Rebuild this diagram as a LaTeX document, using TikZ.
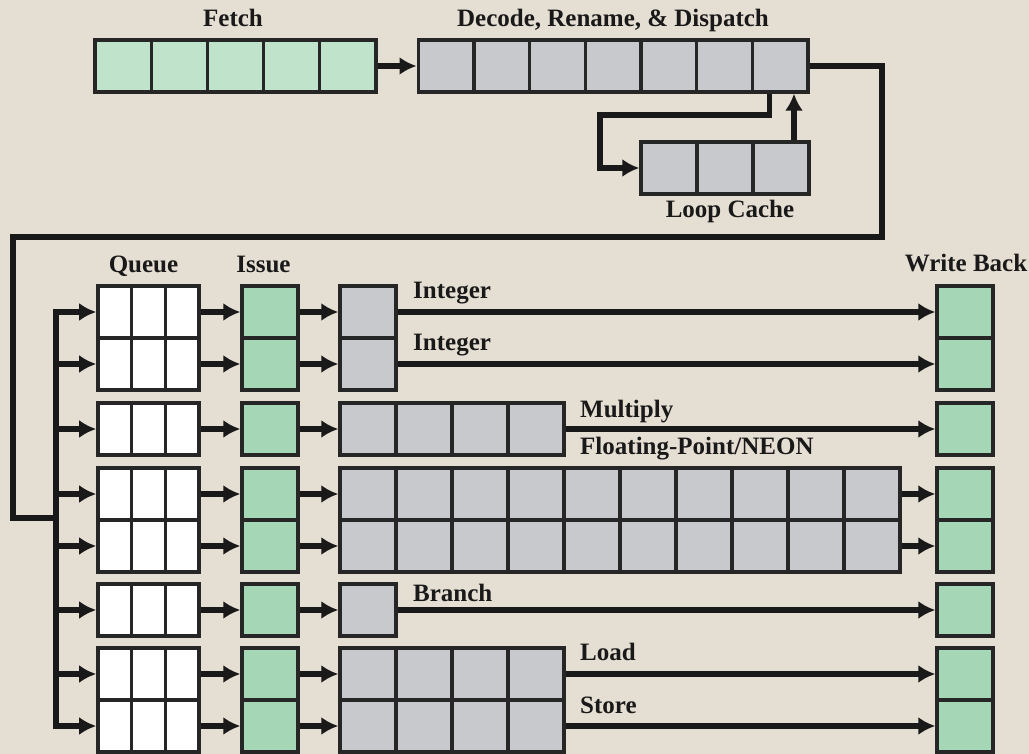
\documentclass[tikz,border=0pt]{standalone}
\usepackage{fontspec}
\setmainfont{Liberation Serif}
\usetikzlibrary{arrows.meta}
\definecolor{bgtan}{RGB}{229,222,210}
\definecolor{fetchgreen}{RGB}{191,227,203}
\definecolor{issuegreen}{RGB}{165,214,182}
\definecolor{unitgray}{RGB}{200,201,204}
\tikzset{
  cell/.style={draw=black!85,line width=3.3pt,inner sep=0pt,minimum width=56pt,minimum height=52pt},
  fcell/.style={cell,fill=fetchgreen,minimum width=56.2pt},
  dcell/.style={cell,fill=unitgray,minimum width=55.7pt},
  gcell/.style={cell,fill=issuegreen},
  xcell/.style={cell,fill=unitgray},
  qcell/.style={cell,fill=white,minimum width=33.7pt},
  wire/.style={line width=5.2pt,black!90},
  lbl/.style={font=\bfseries\fontsize{25}{30}\selectfont,inner sep=0pt,text=black!90}
}

\begin{document}
\begin{tikzpicture}[x=1pt,y=-1pt,>={Latex[length=17pt,width=18pt]}]
  \fill[bgtan] (0,0) rectangle (1029,754);
  \useasboundingbox (0,0) rectangle (1029,754);

  % front end
  \foreach \c in {1,...,5} \node[fcell] (f\c) at ({66.9+56.2*\c},66) {};
  \foreach \c in {1,...,7} \node[dcell] (d\c) at ({390.3+55.7*\c},66) {};
  \foreach \c in {1,2,3} \node[xcell] (l\c) at ({613+56*\c},168) {};
  \node[lbl,anchor=base] (tfetch) at (233,27) {Fetch};
  \node[lbl,anchor=base] (tdecode) at (613,27) {Decode, Rename, \& Dispatch};
  \node[lbl,anchor=base] (tloop) at (730,218) {Loop Cache};

  \draw[wire,->] (f5) -- (d1);
  \coordinate (loopturn) at (600,115);
  \draw[wire,->] ([xshift=-11pt]d7.south) |- (loopturn) |- (l1.west);
  \draw[wire,->] ([xshift=13pt]l3.north) -- ([xshift=13pt]l3.north |- d7.south);

  % dispatch to the issue queues
  \coordinate (turnR) at (882,237);
  \coordinate (turnL) at (13,518);
  \coordinate (busjoin) at (56,518);
  \draw[wire] (d7.east) -| (turnR) -| (turnL) -- (busjoin);
  \draw[wire] (56,309.4) -- (56,728.6);

  \node[lbl,anchor=base] (tqueue) at (143.5,273) {Queue};
  \node[lbl,anchor=base] (tissue) at (263.5,273) {Issue};
  \node[lbl,anchor=base] (twb) at (966,272) {Write Back};

  % pipelines
  \foreach \r/\y/\n in {1/312/1,2/364/1,3/429/4,4/494/10,5/546/10,6/610/1,7/674/4,8/726/4}{
    \coordinate (b\r) at (53.4,\y);
    \foreach \c in {1,2,3} \node[qcell] (q\r-\c) at ({81+33.7*\c},\y) {};
    \node[gcell] (i\r) at (270,\y) {};
    \foreach \c in {1,...,\n} \node[xcell] (x\r-\c) at ({312+56*\c},\y) {};
    \node[gcell] (w\r) at (965,\y) {};
    \draw[wire,->] (b\r) -- (q\r-1);
    \draw[wire,->] (q\r-3) -- (i\r);
    \draw[wire,->] (i\r) -- (x\r-1);
    \draw[wire,->] (x\r-\n) -- (w\r);
  }

  \node[lbl,anchor=base west] (tint1) at (413,299) {Integer};
  \node[lbl,anchor=base west] (tint2) at (413,351) {Integer};
  \node[lbl,anchor=base west] (tmul) at (580,417) {Multiply};
  \node[lbl,anchor=base west] (tfp) at (580,454) {Floating-Point/NEON};
  \node[lbl,anchor=base west] (tbr) at (413,601) {Branch};
  \node[lbl,anchor=base west] (tld) at (580,660) {Load};
  \node[lbl,anchor=base west] (tst) at (580,713) {Store};
\end{tikzpicture}
\end{document}
